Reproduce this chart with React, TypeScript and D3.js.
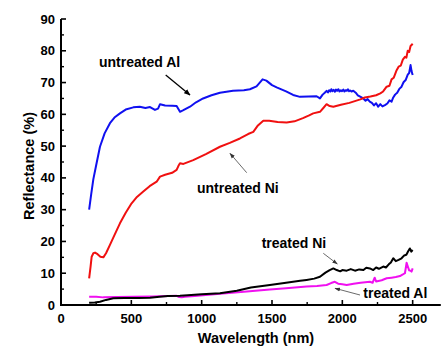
import React from "react";
import * as d3 from "d3";

const xTicks = [0, 500, 1000, 1500, 2000, 2500];
const yTicks = [0, 10, 20, 30, 40, 50, 60, 70, 80, 90];

const untreatedAlWl = [200, 215, 230, 250, 277, 310, 348, 380, 419, 460, 514, 560, 600, 633, 668, 690, 704, 740, 790, 822, 846, 870, 917, 960, 1010, 1070, 1130, 1223, 1300, 1343, 1390, 1433, 1460, 1500, 1533, 1600, 1650, 1699, 1760, 1817, 1841, 1860, 1875, 1888, 1898, 1906, 1915, 1922, 1930, 1938, 1947, 1955, 1963, 1972, 1980, 1990, 1998, 2007, 2015, 2024, 2032, 2040, 2048, 2056, 2065, 2078, 2095, 2110, 2130, 2149, 2165, 2180, 2195, 2210, 2225, 2240, 2255, 2270, 2285, 2303, 2320, 2335, 2350, 2362, 2375, 2390, 2405, 2421, 2435, 2450, 2465, 2475, 2485, 2492, 2500];
const untreatedAlR = [30, 35, 39.6, 44, 49.8, 54, 57.2, 59, 60.3, 61.5, 62.2, 62.4, 62.0, 62.3, 61.4, 61.8, 63.2, 62.8, 62.7, 62.6, 60.8, 61.3, 62.4, 63.8, 65.0, 66.0, 66.8, 67.4, 67.6, 67.9, 68.8, 71.0, 70.6, 69.2, 68.5, 67.2, 66.1, 65.5, 65.6, 65.7, 65.0, 66.2, 66.8, 67.4, 66.9, 67.6, 67.2, 67.9, 67.3, 67.7, 67.1, 67.8, 67.4, 67.9, 67.2, 67.6, 67.3, 67.8, 67.2, 67.6, 67.4, 67.9, 67.3, 67.5, 67.2, 67.4, 66.8, 66.0, 65.5, 65.0, 64.3, 64.8, 64.0, 63.6, 62.8, 63.5, 62.4, 63.2, 62.5, 62.9, 63.4, 64.4, 64.0, 65.3, 66.2, 66.8, 68.0, 68.7, 70.1, 70.8, 72.5, 73.0, 75.5, 73.6, 72.4];

const untreatedNiWl = [200, 210, 218, 230, 242, 260, 280, 301, 320, 348, 380, 419, 460, 502, 540, 585, 630, 680, 704, 740, 790, 822, 835, 846, 870, 940, 1030, 1130, 1200, 1272, 1330, 1367, 1400, 1438, 1480, 1540, 1604, 1660, 1720, 1760, 1793, 1841, 1865, 1888, 1910, 1936, 1990, 2050, 2100, 2128, 2160, 2200, 2240, 2270, 2290, 2315, 2335, 2350, 2365, 2386, 2400, 2415, 2430, 2445, 2455, 2465, 2475, 2485, 2492, 2500];
const untreatedNiR = [8.4, 12, 15.2, 16.3, 16.5, 16.0, 15.2, 15.0, 16.3, 18.9, 22, 25.7, 29, 32.0, 34.0, 35.7, 37.4, 38.8, 40.4, 41.0, 41.6, 42.5, 43.8, 44.6, 44.4, 45.6, 47.5, 49.8, 51.0, 52.4, 53.8, 54.5, 56.5, 58.0, 58.0, 57.6, 57.4, 57.8, 58.8, 59.6, 60.3, 60.8, 62.0, 63.2, 62.6, 62.4, 63.0, 63.6, 64.3, 64.7, 65.3, 65.6, 66.0, 66.6, 67.2, 68.7, 69.0, 71.0, 71.5, 73.9, 75.0, 75.3, 77.2, 78.1, 77.8, 80.0, 79.6, 81.5, 81.8, 82.2];

const treatedNiWl = [200, 240, 277, 320, 372, 450, 550, 633, 700, 760, 846, 900, 1000, 1130, 1250, 1350, 1485, 1600, 1700, 1746, 1800, 1841, 1880, 1910, 1936, 1960, 1985, 2000, 2031, 2060, 2090, 2120, 2150, 2170, 2196, 2220, 2240, 2260, 2291, 2310, 2330, 2345, 2362, 2380, 2400, 2421, 2440, 2455, 2468, 2480, 2490, 2500];
const treatedNiR = [0.7, 0.8, 1.0, 1.6, 2.1, 2.2, 2.2, 2.3, 2.6, 2.8, 2.9, 3.1, 3.4, 3.7, 4.5, 5.5, 6.3, 7.0, 7.6, 7.9, 8.3, 8.9, 10.2, 11.0, 11.5, 11.0, 10.6, 11.0, 10.8, 11.3, 10.8, 11.2, 11.0, 11.7, 11.5, 11.0, 11.8, 11.4, 12.1, 11.8, 12.8, 13.4, 14.7, 13.8, 14.2, 14.7, 15.6, 15.8, 16.9, 17.8, 16.8, 17.3];

const treatedAlWl = [200, 250, 300, 400, 514, 650, 822, 840, 858, 880, 950, 1050, 1130, 1300, 1485, 1600, 1746, 1820, 1888, 1920, 1947, 1970, 2000, 2031, 2080, 2130, 2196, 2215, 2230, 2240, 2280, 2315, 2350, 2380, 2410, 2430, 2445, 2457, 2465, 2475, 2485, 2492, 2500];
const treatedAlR = [2.6, 2.6, 2.4, 2.5, 2.6, 2.7, 2.9, 2.5, 2.4, 2.6, 2.8, 3.2, 3.5, 4.2, 4.9, 5.3, 5.8, 6.0, 6.3, 6.9, 7.3, 6.7, 6.5, 6.3, 6.7, 7.0, 7.3, 7.0, 8.6, 7.4, 7.8, 8.4, 8.6, 8.8, 9.1, 9.6, 10.0, 13.3, 12.2, 10.9, 10.8, 10.5, 11.5];

const series = [
  { wl: untreatedAlWl, r: untreatedAlR, color: "#1010f0" },
  { wl: untreatedNiWl, r: untreatedNiR, color: "#f01010" },
  { wl: treatedAlWl, r: treatedAlR, color: "#f010f0" },
  { wl: treatedNiWl, r: treatedNiR, color: "#000000" },
];

const FONT = "'Liberation Sans', Arial, Helvetica, sans-serif";

export default function App() {
  const x = d3.scaleLinear().domain([0, 2700]).range([61, 440.8]);
  const y = d3.scaleLinear().domain([0, 90]).range([305, 19]);
  const line = d3.line<[number, number]>().x((d) => x(d[0])).y((d) => y(d[1]));
  const xMinor = d3.range(250, 2700, 500);
  const yMinor = d3.range(5, 90, 10);

  return (
    <svg width={445} height={348} style={{ position: "absolute", left: 0, top: 0, background: "#fff" }} fontFamily={FONT}>
      <defs>
        <marker id="ahBlack" viewBox="0 0 10 10" refX="9" refY="5" markerWidth="5" markerHeight="5" orient="auto" markerUnits="strokeWidth">
          <path d="M0,1 L10,5 L0,9 z" fill="#000" />
        </marker>
        <marker id="ahGray" viewBox="0 0 10 10" refX="9" refY="5" markerWidth="7" markerHeight="7" orient="auto" markerUnits="strokeWidth">
          <path d="M0,1.5 L10,5 L0,8.5 z" fill="#333" />
        </marker>
      </defs>

      {series.map((s, i) => (
        <path key={i} d={line(s.wl.map((w, j) => [w, s.r[j]] as [number, number])) || ""} fill="none" stroke={s.color} strokeWidth={2} strokeLinejoin="round" />
      ))}

      {/* axes */}
      <line x1={x(0)} x2={x(2700)} y1={y(0)} y2={y(0)} stroke="#000" strokeWidth={2} />
      <line x1={x(0)} x2={x(0)} y1={y(0) + 1} y2={y(90)} stroke="#000" strokeWidth={2} />
      {xTicks.map((t) => (
        <g key={"xt" + t}>
          <line x1={x(t)} x2={x(t)} y1={y(0)} y2={y(0) - 5} stroke="#000" strokeWidth={1.6} />
          <text x={x(t)} y={y(0) + 18} textAnchor="middle" fontSize={13} fontWeight="bold">{t}</text>
        </g>
      ))}
      {xMinor.map((t) => (
        <line key={"xm" + t} x1={x(t)} x2={x(t)} y1={y(0)} y2={y(0) - 3} stroke="#000" strokeWidth={1.4} />
      ))}
      {yTicks.map((t) => (
        <g key={"yt" + t}>
          <line x1={x(0)} x2={x(0) + 5} y1={y(t)} y2={y(t)} stroke="#000" strokeWidth={1.6} />
          <text x={x(0) - 6} y={y(t) + 4.5} textAnchor="end" fontSize={13} fontWeight="bold">{t}</text>
        </g>
      ))}
      {yMinor.map((t) => (
        <line key={"ym" + t} x1={x(0)} x2={x(0) + 3} y1={y(t)} y2={y(t)} stroke="#000" strokeWidth={1.4} />
      ))}

      <text x={256} y={343} textAnchor="middle" fontSize={14.5} fontWeight="bold">Wavelength (nm)</text>
      <text transform="translate(34,166) rotate(-90)" textAnchor="middle" fontSize={14.5} fontWeight="bold">Reflectance (%)</text>

      {/* annotations */}
      <text x={99} y={67} fontSize={14} fontWeight="bold">untreated Al</text>
      <line x1={165.7} y1={75} x2={190} y2={95} stroke="#000" strokeWidth={1.3} markerEnd="url(#ahBlack)" />

      <text x={197} y={193} fontSize={14} fontWeight="bold">untreated Ni</text>
      <line x1={246.7} y1={172.7} x2={230} y2={153.3} stroke="#444" strokeWidth={0.8} markerEnd="url(#ahGray)" />

      <text x={261.7} y={248} fontSize={14} fontWeight="bold">treated Ni</text>
      <line x1={323.3} y1={253.3} x2={337.3} y2={264} stroke="#444" strokeWidth={0.8} markerEnd="url(#ahGray)" />

      <text x={363.3} y={297.5} fontSize={14} fontWeight="bold">treated Al</text>
      <line x1={360} y1={295} x2={335} y2={288.3} stroke="#444" strokeWidth={0.8} markerEnd="url(#ahGray)" />
    </svg>
  );
}
